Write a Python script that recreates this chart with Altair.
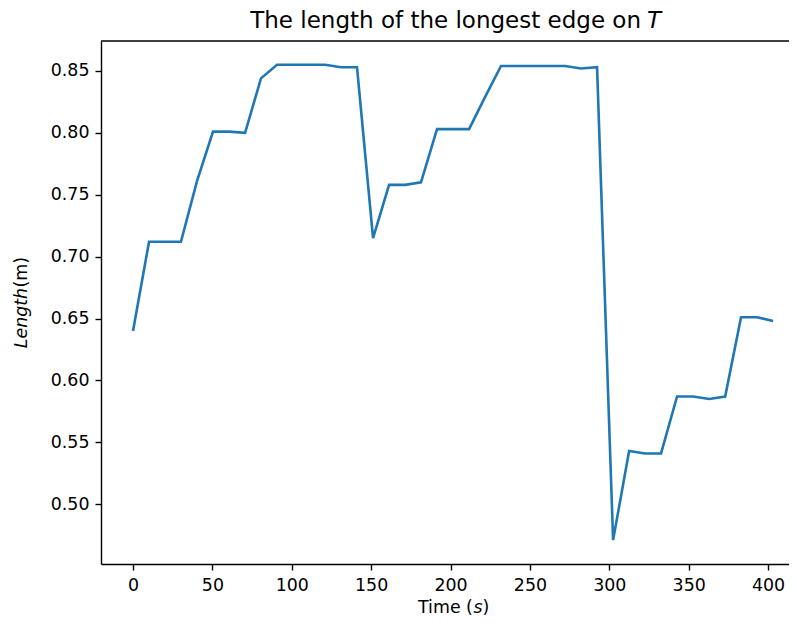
import altair as alt
import pandas as pd

# ---- data ----
time_s = [0.0, 10.1, 20.2, 30.2, 40.3, 50.4, 60.5, 70.6, 80.6, 90.7,
          100.8, 110.9, 121.0, 131.0, 141.1, 151.2, 161.3, 171.4, 181.4, 191.5,
          201.6, 211.7, 221.8, 231.8, 241.9, 252.0, 262.1, 272.2, 282.2, 292.3,
          302.4, 312.5, 322.6, 332.6, 342.7, 352.8, 362.9, 373.0, 383.0, 393.1,
          403.2]
length_m = [0.640, 0.712, 0.712, 0.712, 0.761, 0.801, 0.801, 0.800, 0.844, 0.855,
            0.855, 0.855, 0.855, 0.853, 0.853, 0.715, 0.758, 0.758, 0.760, 0.803,
            0.803, 0.803, 0.829, 0.854, 0.854, 0.854, 0.854, 0.854, 0.852, 0.853,
            0.471, 0.543, 0.541, 0.541, 0.587, 0.587, 0.585, 0.587, 0.651, 0.651,
            0.648]
x_ticks = [0, 50, 100, 150, 200, 250, 300, 350, 400]
y_ticks = [0.50, 0.55, 0.60, 0.65, 0.70, 0.75, 0.80, 0.85]
x_domain = [-20.16, 413.2]
y_domain = [0.4517, 0.8742]

title_main = "The length of the longest edge on"
title_italic = "T"
xlab_a, xlab_b, xlab_c = "Time (", "s", ")"
ylab_a, ylab_b = "Length", "(m)"

FONT = "DejaVu Sans"
W, H = 688, 523

df = pd.DataFrame({"t": time_s, "len": length_m})

line = alt.Chart(df).mark_line(color="#1f77b4", strokeWidth=2.6).encode(
    x=alt.X("t:Q", scale=alt.Scale(domain=x_domain, nice=False, zero=False),
            axis=alt.Axis(values=x_ticks, title=None, format="d")),
    y=alt.Y("len:Q", scale=alt.Scale(domain=y_domain, nice=False, zero=False),
            axis=alt.Axis(values=y_ticks, title=None, format=".2f")),
)

one = alt.Data(values=[{"k": 1}])

top_spine = alt.Chart(one).mark_rule(color="black", strokeWidth=1.4).encode(
    x=alt.value(0), x2=alt.value(W), y=alt.value(0)
)

def txt(s, x, y, align, size, italic=False, angle=0, baseline="alphabetic"):
    kw = dict(font=FONT, fontSize=size, color="black", align=align,
              baseline=baseline, text=s)
    if italic:
        kw["fontStyle"] = "italic"
    if angle:
        kw["angle"] = angle
    return alt.Chart(one).mark_text(**kw).encode(x=alt.value(x), y=alt.value(y))

t1 = txt(title_main, 540, -13, "right", 23.0)
t2 = txt(title_italic, 546, -13, "left", 23.0, italic=True)

XB = H + 49
xa = txt(xlab_a, 371.9, XB, "right", 17.4)
xb = txt(xlab_b, 372.4, XB, "left", 17.4, italic=True)
xc = txt(xlab_c, 381.6, XB, "left", 17.4)

ya = txt(ylab_a, -74, 307.2, "left", 17.4, italic=True, angle=270)
yb = txt(ylab_b, -74, 246.5, "left", 17.4, angle=270)

chart = alt.layer(line, top_spine, t1, t2, xa, xb, xc, ya, yb).properties(
    width=W, height=H,
    autosize=alt.AutoSizeParams(type="none"),
    padding={"left": 93, "top": 33, "right": 0, "bottom": 57},
    background="white",
).configure_view(stroke=None).configure_axis(
    labelFont=FONT, labelFontSize=17.4, labelColor="black",
    tickColor="black", tickWidth=1.4, tickSize=6,
    domainColor="black", domainWidth=1.4, grid=False, labelPadding=6,
)

chart.save("out.html", embed_options={"renderer": "svg", "actions": False})
